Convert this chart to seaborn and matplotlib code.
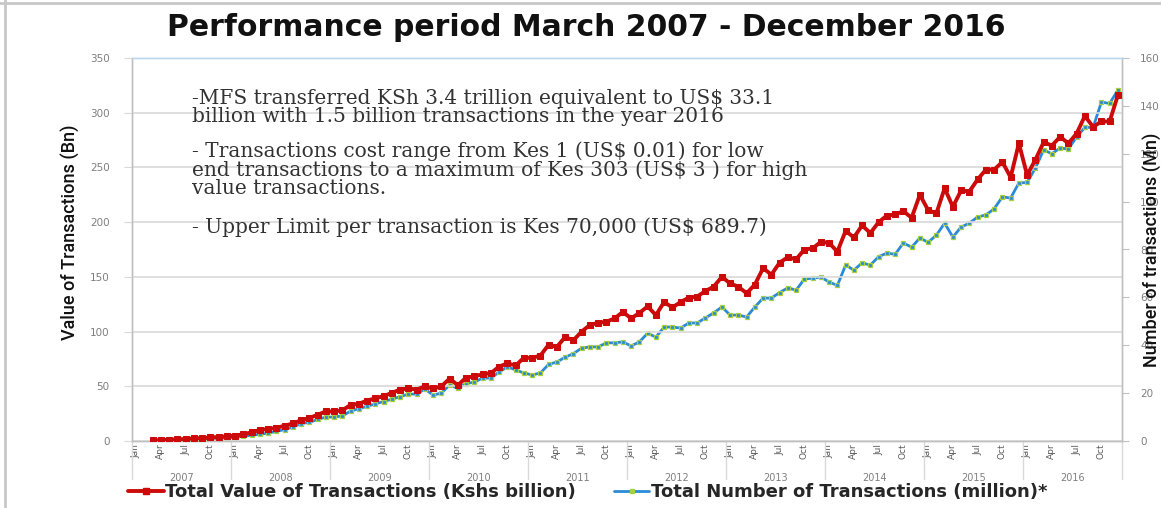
import numpy as np
import pandas as pd
import matplotlib
matplotlib.use("Agg")
import matplotlib.pyplot as plt
import matplotlib.transforms as mtransforms
from matplotlib.lines import Line2D
import seaborn as sns

# data: monthly values, March 2007 - December 2016
value_bn = [
    0.5, 0.8, 1.1, 1.5, 1.9, 2.3, 2.7, 3.2, 3.7, 4.2,                   # 2007
    5, 6, 8, 10, 11, 12, 14, 16, 19, 21, 24, 27,                         # 2008
    27, 28, 33, 34, 37, 39, 41, 44, 47, 48, 47, 50,                      # 2009
    48, 50, 57, 51, 58, 59, 61, 62, 68, 71, 69, 76,                      # 2010
    76, 78, 88, 86, 95, 92, 100, 106, 108, 109, 112, 118,                # 2011
    112, 117, 123, 115, 127, 122, 127, 131, 132, 137, 141, 150,          # 2012
    144, 141, 135, 143, 158, 152, 163, 168, 166, 175, 176, 182,          # 2013
    181, 173, 192, 186, 197, 190, 200, 206, 207, 210, 204, 225,          # 2014
    211, 208, 231, 214, 229, 228, 239, 248, 248, 255, 241, 272,          # 2015
    243, 257, 273, 270, 278, 272, 281, 297, 287, 292, 292, 316,          # 2016
]
number_mn = [
    0.1, 0.2, 0.3, 0.4, 0.5, 0.6, 0.8, 1.0, 1.2, 1.4,
    1.5, 2.0, 2.4, 2.8, 3.3, 4.0, 4.8, 5.8, 7.3, 7.8, 9.0, 10.0,
    10, 10.5, 12.5, 13.5, 14.5, 15.5, 16.5, 17.5, 18.5, 19.6, 19.6, 21.7,
    19.2, 20, 23.4, 22, 24, 24.6, 26.3, 26.3, 28.8, 31, 29.7, 28.4,
    27.6, 28.4, 32, 33, 35, 36.5, 38.8, 39.3, 39.3, 41, 41, 41.4,
    39.7, 41.4, 45, 43.4, 47.6, 47.6, 47.2, 49.3, 49.3, 51.4, 53.5, 56,
    52.6, 52.6, 51.8, 56, 59.7, 59.7, 62, 64, 63, 67.7, 68, 68.5,
    66.4, 65, 73.5, 71.4, 74.4, 73.5, 77, 78.5, 78, 82.7, 81, 84.8,
    83, 86, 91, 85.2, 89.4, 91, 93.6, 94.4, 97, 102, 101.5, 107.8,
    108, 114, 121.6, 120, 122.4, 122, 127, 131, 131, 141.6, 141, 146.6,
]
years = list(range(2007, 2017))
month_labels = ["Jan", "Apr", "Jul", "Oct"]
left_ticks = [0, 50, 100, 150, 200, 250, 300, 350]
right_ticks = [0, 20, 40, 60, 80, 100, 120, 140, 160]

notes = [
    "-MFS transferred KSh 3.4 trillion equivalent to US$ 33.1",
    "billion with 1.5 billion transactions in the year 2016",
    "- Transactions cost range from Kes 1 (US$ 0.01) for low",
    "end transactions to a maximum of Kes 303 (US$ 3 ) for high",
    "value transactions.",
    "- Upper Limit per transaction is Kes 70,000 (US$ 689.7)",
]

months = pd.period_range("2007-03", "2016-12", freq="M")
df = pd.DataFrame({
    "pos": (months.year - 2007) * 12 + months.month - 1,
    "value": value_bn,
    "number": number_mn,
})

RED = "#cc0a0a"
BLUE = "#2b8ad6"
GREEN = "#a6cf45"
GRID = "#d9d9d9"
TXT = "#7f7f7f"

sns.set_style("white")
fig = plt.figure(figsize=(11.61, 5.08), dpi=100)
W, H = 1161, 508
ax = fig.add_axes([132 / W, (H - 441) / H, 990 / W, 383 / H])
ax2 = ax.twinx()

sns.lineplot(data=df, x="pos", y="value", ax=ax, color=RED, lw=2.8,
             marker="s", markersize=4, markeredgecolor=RED, zorder=3)
sns.lineplot(data=df, x="pos", y="number", ax=ax2, color=BLUE, lw=2,
             marker="s", markersize=3.5, markerfacecolor=BLUE,
             markeredgecolor=GREEN, markeredgewidth=0.9, zorder=3)

ax.set_xlim(-0.5, 119.5)
ax.set_ylim(0, 350)
ax2.set_ylim(0, 160)
ax.set_zorder(ax2.get_zorder() + 1)
ax.patch.set_visible(False)

ax.set_yticks(left_ticks)
ax.set_yticklabels([str(t) for t in left_ticks], fontsize=7.5, color=TXT)
ax.yaxis.grid(True, color=GRID, lw=1.2)
ax.tick_params(axis="y", length=6, color=GRID, pad=10)
ax2.set_yticks(right_ticks)
ax2.set_yticklabels([str(t) for t in right_ticks], fontsize=7.5, color=TXT)
ax2.tick_params(axis="y", length=5, color="#bfbfbf", pad=8)
ax.set_xlabel("")
ax.set_ylabel("")
ax2.set_ylabel("")

for a in (ax, ax2):
    for s in a.spines.values():
        s.set_color("#bfbfbf")
        s.set_linewidth(1)
    a.spines["top"].set_color("#bdd7ee")

# month ticks and year groups
tick_pos = [12 * i + 3 * k for i in range(len(years)) for k in range(4)]
ax.set_xticks(tick_pos)
ax.set_xticklabels(month_labels * len(years), rotation=90, fontsize=6.5,
                   color="#595959")
ax.tick_params(axis="x", length=0, pad=2)
ax.set_xticks([3 * k - 0.5 for k in range(41) if k % 4], minor=True)
ax.tick_params(axis="x", which="minor", length=15, color=GRID, width=1)
trans = mtransforms.blended_transform_factory(ax.transData, ax.transAxes)
for i, yr in enumerate(years):
    ax.axvline(12 * i - 0.5, ymin=-0.1, ymax=0, color=GRID, lw=1,
               clip_on=False)
    ax.text(12 * i + 5.5, -0.097, str(yr), transform=trans, ha="center",
            va="center", fontsize=7, color=TXT)
ax.axvline(119.5, ymin=-0.1, ymax=0, color=GRID, lw=1, clip_on=False)

# titles and labels
fig.text(586 / W, 1 - 28 / H, "Performance period March 2007 - December 2016",
         ha="center", va="center", fontsize=21.5, fontweight="bold",
         color="#111111")
fig.text(70 / W, 1 - 232 / H, "Value of Transactions (Bn)", rotation=90,
         ha="center", va="center", fontsize=13, family="Roboto",
         fontweight="medium", color="#111111")
fig.text(1153 / W, 1 - 250 / H, "Number of transactions (Mn)", rotation=90,
         ha="center", va="center", fontsize=13, family="Roboto",
         fontweight="medium", color="#111111")

note_y = [98, 117, 151, 170, 189, 227]
for txt, yy in zip(notes, note_y):
    fig.text(192 / W, 1 - yy / H, txt, ha="left", va="center", fontsize=14.5,
             family="DejaVu Serif", color="#333333")

handles = [
    Line2D([], [], color=RED, lw=2.8, marker="s", markersize=4),
    Line2D([], [], color=BLUE, lw=2, marker="s", markersize=3.5,
           markerfacecolor=GREEN, markeredgecolor=GREEN),
]
fig.legend(handles, ["Total Value of Transactions (Kshs billion)",
                     "Total Number of Transactions (million)*"],
           loc="center", bbox_to_anchor=(588 / W, 16 / H), ncol=2,
           frameon=False, handlelength=1.95, columnspacing=2.1,
           handletextpad=0.1, prop={"weight": "bold", "size": 13})

# slide frame edges
fig.add_artist(Line2D([5 / W, 5 / W], [0, 1], color="#c8c8c8", lw=2))
fig.add_artist(Line2D([0, 1], [1 - 3 / H, 1 - 3 / H], color="#c8c8c8", lw=2))

fig.savefig("out.png", dpi=100)
